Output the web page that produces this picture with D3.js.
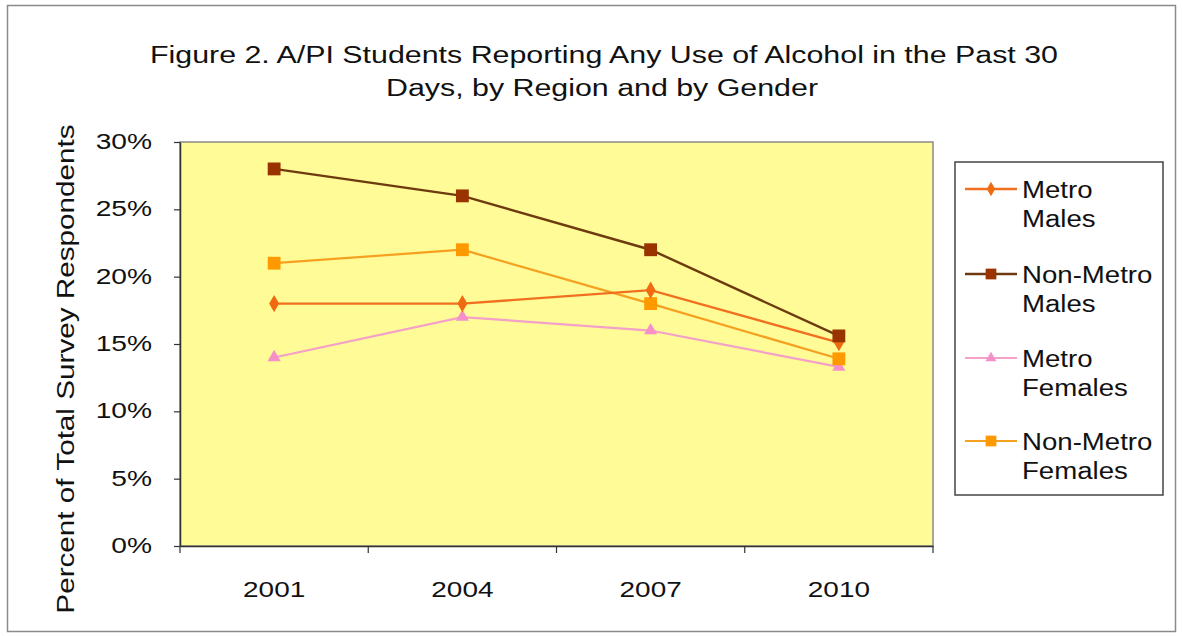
<!DOCTYPE html>
<html>
<head>
<meta charset="utf-8">
<script src="https://cdn.jsdelivr.net/npm/d3@7"></script>
<style>
  html, body { margin: 0; padding: 0; background: #fff; }
  svg { display: block; font-family: "Liberation Sans", Arial, sans-serif; }
</style>
</head>
<body>
<svg id="chart" width="1183" height="636"></svg>
<script>
// Survey years on the category axis
const years = ["2001", "2004", "2007", "2010"];

// Percent reporting any alcohol use in the past 30 days
const metroMales = [18, 18, 19, 15.1];
const nonMetroMales = [28, 26, 22, 15.6];
const metroFemales = [14, 17, 16, 13.3];
const nonMetroFemales = [21, 22, 18, 13.9];

const seriesNames = ["Metro Males", "Non-Metro Males", "Metro Females", "Non-Metro Females"];
const yTicks = [0, 5, 10, 15, 20, 25, 30];

const series = [
  { name: seriesNames[0], values: metroMales, line: "#F07020", fill: "#F06A10", symbol: d3.symbolDiamond, size: 85, width: 2.4 },
  { name: seriesNames[1], values: nonMetroMales, line: "#6E3A10", fill: "#993300", symbol: d3.symbolSquare, size: 165, width: 2.4 },
  { name: seriesNames[2], values: metroFemales, line: "#F4A0C8", fill: "#F590C8", symbol: d3.symbolTriangle, size: 75, width: 2.2 },
  { name: seriesNames[3], values: nonMetroFemales, line: "#F5A020", fill: "#FF9900", symbol: d3.symbolSquare, size: 165, width: 2.2 }
];

// Widen text horizontally by a factor (the labels use a broad, stretched face)
function widen(sel, factor) {
  sel.each(function () {
    const w = this.getComputedTextLength();
    d3.select(this).attr("textLength", w * factor).attr("lengthAdjust", "spacingAndGlyphs");
  });
}

const svg = d3.select("#chart");

// Outer frame
svg.append("rect")
  .attr("x", 7.5).attr("y", 5.5).attr("width", 1168).attr("height", 626)
  .attr("fill", "#fff").attr("stroke", "#8a8a8a").attr("stroke-width", 1.5);

// Title
const title = svg.append("text")
  .attr("text-anchor", "middle")
  .attr("font-size", 23)
  .attr("fill", "#111");
title.append("tspan").attr("x", 604).attr("y", 63)
  .text("Figure 2. A/PI Students Reporting Any Use of Alcohol in the Past 30");
title.append("tspan").attr("x", 602).attr("y", 96)
  .text("Days, by Region and by Gender");
widen(title.selectAll("tspan"), 1.32);

const plot = { left: 180, right: 933, top: 142, bottom: 546 };

const x = d3.scaleBand().domain(years).range([plot.left, plot.right]);
const y = d3.scaleLinear().domain([0, 30]).range([plot.bottom, plot.top]);

// Plot area
svg.append("rect")
  .attr("x", plot.left).attr("y", plot.top)
  .attr("width", plot.right - plot.left).attr("height", plot.bottom - plot.top)
  .attr("fill", "#FFFB96").attr("stroke", "#8a8a8a").attr("stroke-width", 1.5);

// Y axis
const yAxis = svg.append("g")
  .attr("transform", `translate(${plot.left},0)`)
  .call(d3.axisLeft(y).tickValues(yTicks).tickFormat(d => d + "%").tickSize(6).tickSizeOuter(0));
yAxis.select(".domain").attr("stroke", "#333").attr("stroke-width", 1.5);
yAxis.selectAll(".tick line").attr("stroke", "#333").attr("stroke-width", 1.2);
yAxis.selectAll(".tick text")
  .attr("font-size", 22).attr("fill", "#111").attr("x", -28).attr("dy", "0.3em")
  .attr("font-family", "Liberation Sans, Arial, sans-serif");
widen(yAxis.selectAll(".tick text"), 1.28);

// X axis with ticks between categories
const xAxis = svg.append("g")
  .attr("transform", `translate(0,${plot.bottom})`)
  .call(d3.axisBottom(x).tickSize(0).tickPadding(35));
xAxis.select(".domain").attr("stroke", "#333").attr("stroke-width", 1.5);
xAxis.selectAll(".tick text")
  .attr("font-size", 22).attr("fill", "#111")
  .attr("font-family", "Liberation Sans, Arial, sans-serif");
widen(xAxis.selectAll(".tick text"), 1.27);
const boundaries = years.map(d => x(d)).concat([x(years[years.length - 1]) + x.bandwidth()]);
xAxis.selectAll("line.sep").data(boundaries).join("line")
  .attr("class", "sep")
  .attr("x1", d => d).attr("x2", d => d)
  .attr("y1", 0).attr("y2", 7)
  .attr("stroke", "#333").attr("stroke-width", 1.2);

// Y axis title
const yTitle = svg.append("text")
  .attr("transform", `translate(74,369) rotate(-90)`)
  .attr("text-anchor", "middle")
  .attr("font-size", 23).attr("fill", "#111")
  .text("Percent of Total Survey Respondents");
widen(yTitle, 1.29);

// Lines and markers
const cx = i => x(years[i]) + x.bandwidth() / 2;
const line = d3.line().x((d, i) => cx(i)).y(d => y(d));

const drawOrder = [2, 3, 0, 1];
drawOrder.forEach(k => {
  const s = series[k];
  const g = svg.append("g");
  g.append("path")
    .attr("d", line(s.values))
    .attr("fill", "none").attr("stroke", s.line).attr("stroke-width", s.width);
  g.selectAll("path.mk").data(s.values).join("path")
    .attr("class", "mk")
    .attr("transform", (d, i) => `translate(${cx(i)},${y(d)})`)
    .attr("d", d3.symbol().type(s.symbol).size(s.size))
    .attr("fill", s.fill);
});

// Legend
svg.append("rect")
  .attr("x", 955).attr("y", 162).attr("width", 208).attr("height", 333)
  .attr("fill", "#fff").attr("stroke", "#444").attr("stroke-width", 1.5);

const legendRows = [198, 283, 367, 450];
series.forEach((s, i) => {
  const yy = legendRows[i];
  const g = svg.append("g");
  g.append("line")
    .attr("x1", 965).attr("x2", 1017).attr("y1", yy - 9).attr("y2", yy - 9)
    .attr("stroke", s.line).attr("stroke-width", s.width);
  g.append("path")
    .attr("transform", `translate(991,${yy - 9})`)
    .attr("d", d3.symbol().type(s.symbol).size(s.size * 0.7))
    .attr("fill", s.fill);
  const words = s.name.split(" ");
  const t = g.append("text").attr("font-size", 23).attr("fill", "#111");
  t.append("tspan").attr("x", 1022).attr("y", yy).text(words[0]);
  t.append("tspan").attr("x", 1022).attr("y", yy + 29).text(words[1]);
  widen(t.selectAll("tspan"), 1.2);
});
</script>
</body>
</html>
